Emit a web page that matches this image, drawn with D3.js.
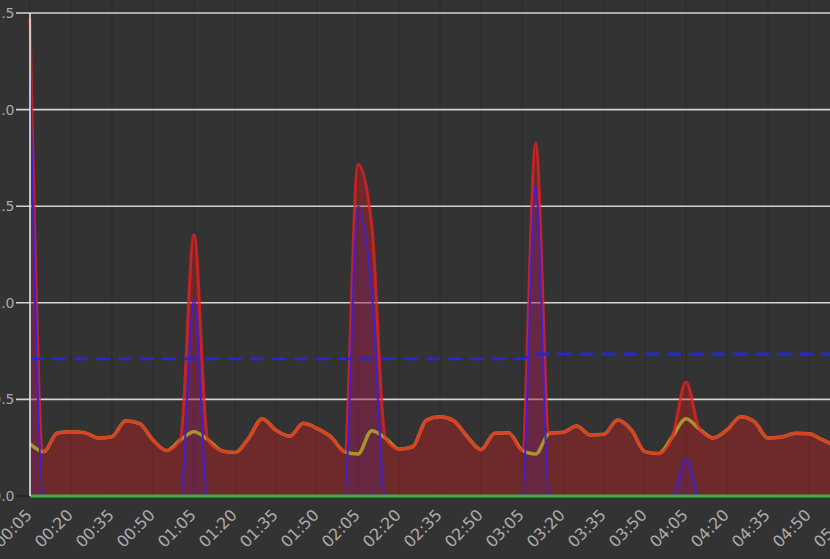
<!DOCTYPE html>
<html><head><meta charset="utf-8">
<script src="https://cdn.jsdelivr.net/npm/d3@7"></script>
<style>
html,body{margin:0;padding:0;background:#333;overflow:hidden}
svg{display:block}
text{font-family:"DejaVu Sans",sans-serif}
</style></head><body>
<svg id="chart" width="830" height="559"></svg>
<script>
const times = ["00:05","00:10","00:15","00:20","00:25","00:30","00:35","00:40","00:45","00:50","00:55",
  "01:00","01:05","01:10","01:15","01:20","01:25","01:30","01:35","01:40","01:45","01:50","01:55",
  "02:00","02:05","02:10","02:15","02:20","02:25","02:30","02:35","02:40","02:45","02:50","02:55",
  "03:00","03:05","03:10","03:15","03:20","03:25","03:30","03:35","03:40","03:45","03:50","03:55",
  "04:00","04:05","04:10","04:15","04:20","04:25","04:30","04:35","04:40","04:45","04:50","04:55",
  "05:00","05:05"];
const baseLoad = [0.27,0.23,0.326,0.333,0.328,0.30,0.307,0.39,0.376,0.29,0.235,
  0.29,0.333,0.293,0.235,0.225,0.30,0.40,0.34,0.31,0.376,0.35,0.307,
  0.23,0.217,0.338,0.30,0.243,0.255,0.393,0.41,0.39,0.307,0.24,0.325,
  0.328,0.238,0.217,0.325,0.33,0.362,0.316,0.32,0.393,0.342,0.23,0.22,
  0.307,0.40,0.345,0.30,0.342,0.41,0.385,0.30,0.305,0.325,0.322,0.29,
  0.26,0.25];
const spikeLoad = [2.2,0,0,0,0,0,0,0,0,0,0,
  0,1.02,0,0,0,0,0,0,0,0,0,0,
  0,1.5,1.07,0,0,0,0,0,0,0,0,0,
  0,0,1.61,0,0,0,0,0,0,0,0,0,
  0,0.19,0,0,0,0,0,0,0,0,0,0,
  0,0];
const floorLine = [0,0,0,0,0,0,0,0,0,0,0,
  0,0,0,0,0,0,0,0,0,0,0,0,
  0,0,0,0,0,0,0,0,0,0,0,0,
  0,0,0,0,0,0,0,0,0,0,0,0,
  0,0,0,0,0,0,0,0,0,0,0,0,
  0,0];
const threshold = [0.71,0.71,0.71,0.71,0.71,0.71,0.71,0.71,0.71,0.71,0.71,
  0.71,0.71,0.71,0.71,0.71,0.71,0.71,0.71,0.71,0.71,0.71,0.71,
  0.71,0.71,0.71,0.71,0.71,0.71,0.71,0.71,0.71,0.71,0.71,0.71,
  0.71,0.71,0.735,0.735,0.735,0.735,0.735,0.735,0.735,0.735,0.735,0.735,
  0.735,0.735,0.735,0.735,0.735,0.735,0.735,0.735,0.735,0.735,0.735,0.735,
  0.735,0.735];
const tickLabels = ["00:05","00:20","00:35","00:50","01:05","01:20","01:35","01:50","02:05","02:20",
  "02:35","02:50","03:05","03:20","03:35","03:50","04:05","04:20","04:35","04:50","05:05"];
const yTicks = [0,0.5,1,1.5,2,2.5];

const parse = d3.timeParse("%H:%M");
const fmt = d3.timeFormat("%H:%M");
const data = times.map((t,i)=>({t:parse(t), base:baseLoad[i], spike:spikeLoad[i], total:baseLoad[i]+spikeLoad[i], floor:floorLine[i], thr:threshold[i]}));

const svg = d3.select("#chart");
const x = d3.scaleTime().domain([parse("00:05"), parse("05:05")]).range([30, 850]);
const y = d3.scaleLinear().domain([0, 2.5]).range([496, 13]);
const curve = d3.curveMonotoneX;

svg.append("rect").attr("width",830).attr("height",559).attr("fill","#333");

// vertical grid
svg.append("g").selectAll("line").data(tickLabels).join("line")
  .attr("x1",d=>x(parse(d))).attr("x2",d=>x(parse(d)))
  .attr("y1",0).attr("y2",496)
  .attr("stroke","#2a2a2a").attr("stroke-width",1);

// horizontal grid
svg.append("g").selectAll("line").data(yTicks).join("line")
  .attr("x1",16).attr("x2",830)
  .attr("y1",d=>y(d)).attr("y2",d=>y(d))
  .attr("stroke",d=>d===0?"#222":"#d4d4d4").attr("stroke-width",1.6);

// y labels
svg.append("g").selectAll("text").data(yTicks).join("text")
  .attr("x",14.5).attr("y",d=>y(d)).attr("dy","0.36em")
  .attr("text-anchor","end").attr("fill","#aaaaaa").attr("font-size",14)
  .text(d=>d3.format(".1f")(d));

// x labels
svg.append("g").selectAll("text").data(tickLabels).join("text")
  .attr("transform",d=>`translate(${x(parse(d))+3},${516}) rotate(-45)`)
  .attr("text-anchor","end").attr("fill","#adadad").attr("font-size",16)
  .text(d=>fmt(parse(d)));

// red total area
svg.append("path").datum(data)
  .attr("d", d3.area().curve(curve).x(d=>x(d.t)).y0(y(0)).y1(d=>y(d.total)))
  .attr("fill","rgba(200,30,30,0.4)");
// blue spike area
svg.append("path").datum(data)
  .attr("d", d3.area().curve(curve).x(d=>x(d.t)).y0(y(0)).y1(d=>y(d.spike)))
  .attr("fill","rgba(70,30,210,0.14)");
// yellow base line
svg.append("path").datum(data)
  .attr("d", d3.line().curve(curve).x(d=>x(d.t)).y(d=>y(d.base)))
  .attr("fill","none").attr("stroke","#a8962c").attr("stroke-width",3.5);
// red total line
svg.append("path").datum(data)
  .attr("d", d3.line().curve(curve).x(d=>x(d.t)).y(d=>y(d.total)))
  .attr("fill","none").attr("stroke","#f02020").attr("stroke-opacity",0.75).attr("stroke-width",3);
// blue spike line
svg.append("path").datum(data)
  .attr("d", d3.line().curve(curve).x(d=>x(d.t)).y(d=>y(d.spike)))
  .attr("fill","none").attr("stroke","#4020d0").attr("stroke-width",2);
// green floor
svg.append("path").datum(data)
  .attr("d", d3.line().curve(curve).x(d=>x(d.t)).y(d=>y(d.floor)))
  .attr("fill","none").attr("stroke","#3cb043").attr("stroke-width",3);
// threshold dashed
svg.append("path").datum(data)
  .attr("d", d3.line().curve(curve).x(d=>x(d.t)).y(d=>y(d.thr)))
  .attr("fill","none").attr("stroke","#2828c8").attr("stroke-width",3).attr("stroke-dasharray","14,8");
// y axis line
svg.append("line").attr("x1",30).attr("x2",30).attr("y1",y(2.5)).attr("y2",y(0))
  .attr("stroke","#e8e8e8").attr("stroke-width",1.6);
</script></body></html>
